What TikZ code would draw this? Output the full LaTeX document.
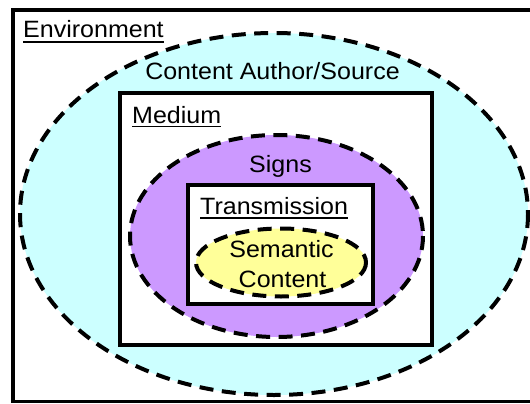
\documentclass[tikz,border=0pt]{standalone}
\usepackage{fontspec}
\setmainfont{Liberation Sans}[FakeStretch=1.06]
\begin{document}
\begin{tikzpicture}[x=1pt,y=-1pt,
  solidbox/.style={draw=black,line width=4pt},
  dashring/.style={draw=black,line width=4pt,dash pattern=on 14pt off 8.5pt},
  lbl/.style={inner sep=0pt,font=\fontsize{23.6pt}{28pt}\selectfont},
  uline/.style={draw=black,line width=1.8pt}]
\definecolor{authorcyan}{HTML}{CCFFFF}
\definecolor{signpurple}{HTML}{CC99FF}
\definecolor{semyellow}{HTML}{FFFF99}
\useasboundingbox (0,0) rectangle (530,404);
\clip (0,0) rectangle (530,404);
\fill[white] (0,0) rectangle (530,404);

% environment frame (runs off the right edge)
\draw[solidbox,line width=3.5pt] (13,10) rectangle (545,401.5);

% content author / source
\fill[authorcyan] (274,214) ellipse [x radius=254, y radius=181];
\draw[dashring] (274,214) ellipse [x radius=254, y radius=181];

% medium
\draw[solidbox,fill=white] (120,93) rectangle (432,345);

% signs
\fill[signpurple] (276.5,236) ellipse [x radius=146.5, y radius=101];
\draw[dashring] (276.5,236) ellipse [x radius=146.5, y radius=101];

% transmission
\draw[solidbox,fill=white] (188,185) rectangle (373,304);

% semantic content
\fill[semyellow] (281,262.5) ellipse [x radius=85, y radius=34];
\draw[dashring] (281,262.5) ellipse [x radius=85, y radius=34];

% labels
\node[lbl,anchor=base west] (env) at (23,38) {Environment};
\draw[uline] ([yshift=-4pt]env.base west) -- ([yshift=-4pt]env.base east);
\node[lbl,anchor=base] (author) at (272.5,80) {Content Author/Source};
\node[lbl,anchor=base west] (med) at (132,123) {Medium};
\draw[uline] ([yshift=-3.5pt]med.base west) -- ([yshift=-3.5pt]med.base east);
\node[lbl,anchor=base] (signs) at (280.5,172) {Signs};
\node[lbl,anchor=base west] (trans) at (200,214) {Transmission};
\draw[uline] ([yshift=-4pt]trans.base west) -- ([yshift=-4pt]trans.base east);
\node[lbl,anchor=base] (sem1) at (281.5,257) {Semantic};
\node[lbl,anchor=base] (sem2) at (282.5,287) {Content};
\end{tikzpicture}
\end{document}
